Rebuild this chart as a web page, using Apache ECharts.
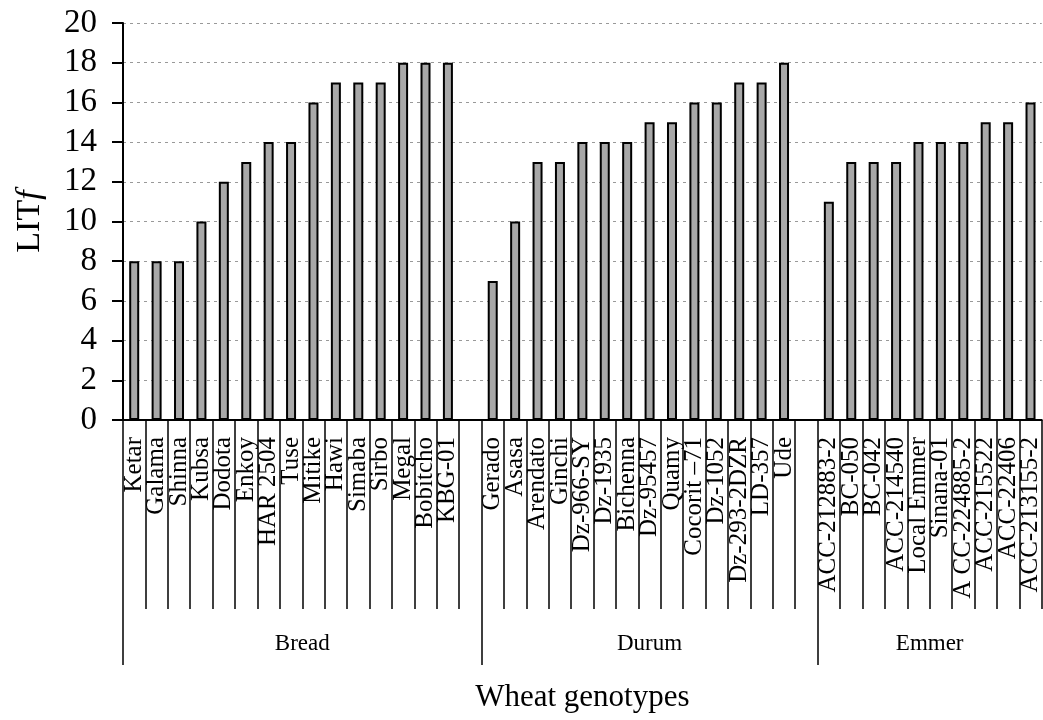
<!DOCTYPE html>
<html>
<head>
<meta charset="utf-8">
<script src="https://cdn.jsdelivr.net/npm/echarts@6/dist/echarts.min.js"></script>
<style>html,body{margin:0;padding:0;background:#fff;}#c{width:1043px;height:720px;}</style>
</head>
<body>
<div id="c"></div>
<script>
const breadNames = ['Ketar','Galama','Shinna','Kubsa','Dodota','Enkoy','HAR 2504','Tuse','Mitike','Hawi','Simaba','Sirbo','Megal','Bobitcho','KBG-01'];
const breadValues = [8,8,8,10,12,13,14,14,16,17,17,17,18,18,18];
const durumNames = ['Gerado','Asasa','Arendato','Ginchi','Dz-966-SY','Dz-1935','Bichenna','Dz-95457','Quamy','Cocorit –71','Dz-1052','Dz-293-2DZR','LD-357','Ude'];
const durumValues = [7,10,13,13,14,14,14,15,15,16,16,17,17,18];
const emmerNames = ['ACC-212883-2','BC-050','BC-042','ACC-214540','Local Emmer','Sinana-01','A CC-224885-2','ACC-215522','ACC-22406','ACC-213155-2'];
const emmerValues = [11,13,13,13,14,14,14,15,15,16];
const groupNames = ['Bread','Durum','Emmer'];
const yTicks = [0,2,4,6,8,10,12,14,16,18,20];

const groupsData = [[breadNames,breadValues],[durumNames,durumValues],[emmerNames,emmerValues]];
const categories = [];
const values = [];
const groups = [];
groupsData.forEach((g, gi) => {
  const start = categories.length;
  g[0].forEach((n, i) => { categories.push(n); values.push(g[1][i]); });
  if (gi < groupsData.length - 1) { categories.push(''); values.push('-'); }
  const end = categories.length;
  groups.push({ name: groupNames[gi], start: start, end: end, mid: (start + end) / 2 });
});

const FONT = "'Liberation Serif', 'Times New Roman', serif";
const chart = echarts.init(document.getElementById('c'));
chart.setOption({
  animation: false,
  backgroundColor: '#fff',
  grid: { left: 123, right: 0, top: 23, bottom: 300 },
  xAxis: [{
    type: 'category',
    data: categories,
    boundaryGap: true,
    axisLine: { lineStyle: { color: '#000', width: 2 } },
    axisTick: { show: true, interval: 0, length: 189, lineStyle: { color: '#000', width: 1.5 } },
    axisLabel: { interval: 0, rotate: 90, margin: 17, fontFamily: FONT, fontSize: 25, color: '#000' },
    name: 'Wheat genotypes',
    nameLocation: 'middle',
    nameGap: 262,
    nameTextStyle: { fontFamily: FONT, fontSize: 31, color: '#000' }
  }, {
    type: 'value',
    min: 0,
    max: categories.length,
    position: 'bottom',
    axisLine: { show: false },
    splitLine: { show: false },
    axisTick: { show: true, customValues: groups.map(g => g.start), length: 245, lineStyle: { color: '#000', width: 1.5 } },
    axisLabel: {
      customValues: groups.map(g => g.mid),
      margin: 212,
      fontFamily: FONT, fontSize: 23, color: '#000',
      formatter: function (v) {
        const g = groups.find(gg => Math.abs(gg.mid - v) < 0.01);
        return g ? g.name : '';
      }
    }
  }],
  yAxis: {
    type: 'value',
    min: yTicks[0],
    max: yTicks[yTicks.length - 1],
    interval: 2,
    axisLine: { show: true, lineStyle: { color: '#000', width: 2 } },
    axisTick: { show: true, length: 11, lineStyle: { color: '#000', width: 2 } },
    axisLabel: { margin: 26, fontFamily: FONT, fontSize: 33, color: '#000' },
    splitLine: { show: true, lineStyle: { color: '#999', width: 1, type: [3, 4] } },
    name: 'LIT{f|f}',
    nameLocation: 'middle',
    nameGap: 76,
    nameRotate: 90,
    nameTextStyle: { fontFamily: FONT, fontSize: 34, color: '#000',
      rich: { f: { fontFamily: FONT, fontSize: 34, fontStyle: 'italic', color: '#000' } } }
  },
  series: [{
    type: 'bar',
    data: values,
    barWidth: 10,
    itemStyle: { color: '#a8a8a8', borderColor: '#000', borderWidth: 2 }
  }]
});
</script>
</body>
</html>
